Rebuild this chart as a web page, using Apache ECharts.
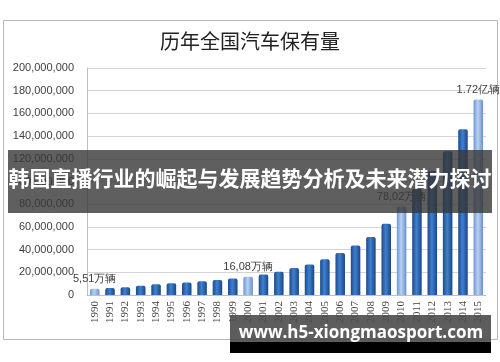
<!DOCTYPE html>
<html><head><meta charset="utf-8">
<script src="https://cdn.jsdelivr.net/npm/echarts@6/dist/echarts.min.js"></script>
<style>html,body{margin:0;padding:0;background:#fff}#c{width:500px;height:362px}</style>
</head><body><div id="c"></div>
<script>
const years = ['1990','1991','1992','1993','1994','1995','1996','1997','1998','1999','2000','2001','2002','2003','2004','2005','2006','2007','2008','2009','2010','2011','2012','2013','2014','2015'];
const values = [5513600,6061100,6917400,8175800,9419500,10400000,11000800,12190900,13193000,14529400,16089100,18020400,20531700,23829300,26937100,31596600,36973500,43583600,50996100,62806100,78018300,93563200,109330900,126701400,145981100,172280000];
const highlightYears = ['1990','2000','2010','2015'];
const labelTexts = {'1990':'5,51万辆','2000':'16,08万辆','2010':'78,02万辆','2015':'1.72亿辆'};
const titleText = '历年全国汽车保有量';
const bannerText = '韩国直播行业的崛起与发展趋势分析及未来潜力探讨';
const watermarkText = 'www.h5-xiongmaosport.com';

const darkGrad = {type:'linear',x:0,y:0,x2:1,y2:0,colorStops:[{offset:0,color:'#1c4a8c'},{offset:0.45,color:'#3f80d0'},{offset:1,color:'#1a4687'}]};
const lightGrad = {type:'linear',x:0,y:0,x2:1,y2:0,colorStops:[{offset:0,color:'#6b97d2'},{offset:0.45,color:'#b9d2f1'},{offset:1,color:'#6890cc'}]};

const seriesData = years.map((y,i)=>{
  const hl = highlightYears.includes(y);
  const d = {value: values[i], itemStyle:{color: hl?lightGrad:darkGrad}};
  if (labelTexts[y]) {
    d.label = {show:true, position:'top', distance:4, formatter: labelTexts[y], color:'#404040', fontSize:11, fontFamily:'Liberation Sans'};
  }
  return d;
});

const chart = echarts.init(document.getElementById('c'));
chart.setOption({
  animation:false,
  title:{text:titleText,left:'center',top:26,textStyle:{fontFamily:'Noto Sans CJK SC',fontWeight:'normal',fontSize:20,color:'#222'}},
  grid:{left:87,right:14,top:68,bottom:67},
  xAxis:{type:'category',data:years,
    axisLine:{lineStyle:{color:'#bfbfbf'}},axisTick:{show:false},
    axisLabel:{rotate:90,fontSize:11,color:'#444',fontFamily:'Liberation Serif',margin:6,interval:0}},
  yAxis:{type:'value',min:0,max:200000000,interval:20000000,
    axisLine:{show:true,lineStyle:{color:'#bfbfbf'}},axisTick:{show:false},
    splitLine:{lineStyle:{color:'#d4d4d4'}},
    axisLabel:{fontSize:11,color:'#404040',fontFamily:'Liberation Sans',margin:13,
      formatter:v=>v===0?'0':v.toLocaleString('en-US')}},
  series:[{type:'bar',data:seriesData,barCategoryGap:'38%',itemStyle:{borderRadius:[2,2,0,0]}}],
  graphic:[
    {type:'rect',shape:{x:3.5,y:20.5,width:494,height:319},style:{fill:'none',stroke:'#b8b8b8',lineWidth:1},z:-1},
    {type:'rect',shape:{x:8,y:150,width:484,height:63},style:{fill:'rgba(55,55,55,0.8)'},z:100},
    {type:'text',left:'center',top:168,style:{text:bannerText,fill:'#fff',font:'bold 21px "Noto Sans CJK SC"'},z:101},
    {type:'rect',shape:{x:230,y:315,width:261,height:27},style:{fill:'rgba(75,75,75,0.9)'},z:100},
    {type:'rect',shape:{x:230,y:342,width:261,height:11},style:{fill:'#000'},z:100},
    {type:'text',x:361,y:333,style:{text:watermarkText,fill:'#fff',font:'bold 17px "Open Sans"',align:'center',verticalAlign:'middle'},z:101}
  ]
});
</script></body></html>
